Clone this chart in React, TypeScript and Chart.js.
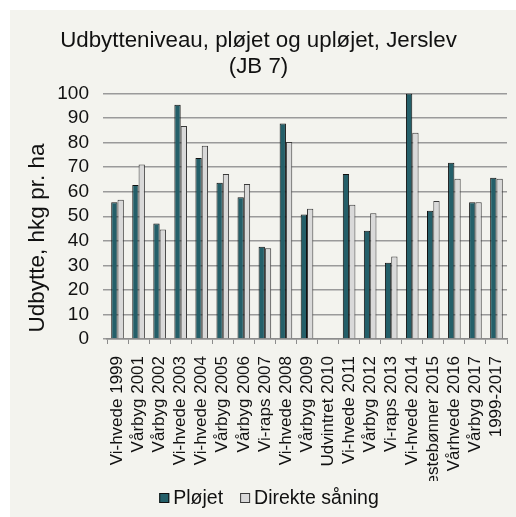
import React, { useEffect, useRef } from "react";
import { Chart, registerables } from "chart.js";

Chart.register(...registerables);

const categories = [
  "Vi-hvede 1999", "Vårbyg 2001", "Vårbyg 2002", "Vi-hvede 2003", "Vi-hvede 2004",
  "Vårbyg 2005", "Vårbyg 2006", "Vi-raps 2007", "Vi-hvede 2008", "Vårbyg 2009",
  "Udvintret 2010", "Vi-hvede 2011", "Vårbyg 2012", "Vi-raps 2013", "Vi-hvede 2014",
  "Hestebønner 2015", "Vårhvede 2016", "Vårbyg 2017", "1999-2017",
];
const ploejet = [55.7, 62.7, 47.1, 95.4, 73.7, 63.7, 57.7, 37.6, 87.8, 50.7, null, 67.2, 44.1, 31.1, 100, 52.2, 71.8, 55.7, 65.7];
const direkte = [56.7, 71.1, 44.6, 86.8, 78.7, 67.2, 63.1, 37.0, 80.3, 53.1, null, 54.7, 51.2, 33.6, 84.0, 56.2, 65.3, 55.7, 65.3];
const seriesNames = ["Pløjet", "Direkte såning"];
const titleLines = ["Udbytteniveau, pløjet og upløjet, Jerslev", "(JB 7)"];
const yTitle = "Udbytte, hkg pr. ha";

const FONT = "'Liberation Sans', Arial, sans-serif";

// Draws the y-axis title (offset like the original) and a compact legend.
const extrasPlugin = {
  id: "extras",
  afterDraw(chart: any) {
    const ctx = chart.ctx;
    ctx.save();
    ctx.font = `22.5px ${FONT}`;
    ctx.fillStyle = "#111";
    ctx.textAlign = "center";
    ctx.textBaseline = "middle";
    ctx.translate(28, 228);
    ctx.rotate(-Math.PI / 2);
    ctx.fillText(yTitle, 0, 0);
    ctx.restore();

    ctx.save();
    const fs = 19.5;
    ctx.font = `${fs}px ${FONT}`;
    ctx.textBaseline = "middle";
    ctx.textAlign = "left";
    const box = 10;
    const gapBoxText = 4;
    const gapItems = 17;
    const items = chart.data.datasets.map((d: any) => ({
      label: d.label,
      fill: d.backgroundColor,
      stroke: d.borderColor,
      w: box + gapBoxText + ctx.measureText(d.label).width,
    }));
    const total = items.reduce((s: number, it: any) => s + it.w, 0) + gapItems * (items.length - 1);
    let x = 259 - total / 2;
    const cy = 488;
    for (const it of items) {
      ctx.fillStyle = it.fill;
      ctx.fillRect(x, cy - box / 2, box, box);
      ctx.strokeStyle = it.stroke;
      ctx.lineWidth = 1;
      ctx.strokeRect(x + 0.5, cy - box / 2 + 0.5, box - 1, box - 1);
      ctx.fillStyle = "#111";
      ctx.fillText(it.label, x + box + gapBoxText, cy + 1);
      x += it.w + gapItems;
    }
    ctx.restore();
  },
};

export default function App() {
  const ref = useRef<HTMLCanvasElement | null>(null);
  useEffect(() => {
    if (!ref.current) return;
    const chart = new Chart(ref.current, {
      type: "bar",
      data: {
        labels: categories,
        datasets: [
          {
            label: seriesNames[0],
            data: ploejet,
            backgroundColor: "#245f69",
            borderColor: "#101010",
            borderWidth: 1,
          },
          {
            label: seriesNames[1],
            data: direkte,
            backgroundColor: "#d9d9d9",
            borderColor: "#3a3a3a",
            borderWidth: 1,
          },
        ],
      },
      plugins: [extrasPlugin],
      options: {
        animation: false,
        responsive: false,
        maintainAspectRatio: false,
        layout: { padding: { left: 0, right: 9, top: 0, bottom: 36 } },
        datasets: { bar: { categoryPercentage: 0.6, barPercentage: 1.0 } },
        plugins: {
          title: {
            display: true,
            text: titleLines,
            color: "#111",
            font: { family: FONT, size: 22.3, weight: "normal", lineHeight: 1.2 },
            padding: { top: 17, bottom: 13 },
          },
          legend: { display: false },
          tooltip: { enabled: false },
        },
        scales: {
          x: {
            grid: {
              display: true,
              drawOnChartArea: false,
              drawTicks: true,
              tickLength: 5,
              color: "#8c8c8c",
              lineWidth: 1,
            },
            border: { display: true, color: "#8c8c8c", width: 1.5 },
            ticks: {
              autoSkip: false,
              maxRotation: 90,
              minRotation: 90,
              padding: 12,
              color: "#111",
              font: { family: FONT, size: 17 },
            },
            afterFit: (scale: any) => {
              scale.height = 142;
              scale.paddingLeft = 0;
              scale.paddingRight = 0;
            },
          },
          y: {
            min: 0,
            max: 100,
            ticks: {
              autoSkip: false,
              stepSize: 10,
              padding: 14,
              color: "#111",
              font: { family: FONT, size: 19 },
            },
            grid: {
              display: true,
              drawOnChartArea: true,
              drawTicks: true,
              color: "#9a9a9a",
              lineWidth: 1.5,
              tickLength: 4,
            },
            border: { display: false },
            title: { display: false },
            afterFit: (scale: any) => {
              scale.width = 97;
            },
          },
        },
      },
    });
    return () => chart.destroy();
  }, []);
  return (
    <div
      style={{
        position: "absolute",
        left: 10,
        top: 10,
        width: 506,
        height: 507,
        background: "#f3f3ee",
      }}
    >
      <canvas ref={ref} width={506} height={507} style={{ display: "block" }} />
    </div>
  );
}
